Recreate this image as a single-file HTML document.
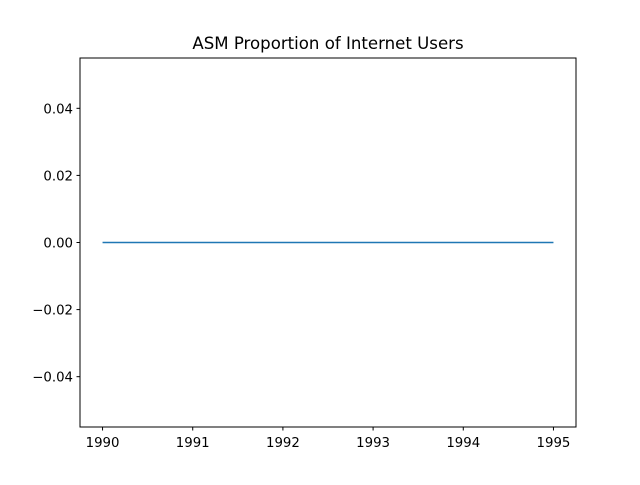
<!DOCTYPE html>
<html><head><meta charset="utf-8"><style>
body{margin:0;background:#fff;}
svg text{font-family:"DejaVu Sans","Liberation Sans",sans-serif;}
</style></head><body>
<svg id="chart" width="640" height="480">
<rect width="640" height="480" fill="#fff"/>
<text x="328" y="49" font-size="16.6" text-anchor="middle">ASM Proportion of Internet Users</text>
<g id="ticks"></g>
<path id="line" fill="none" stroke="#1f77b4" stroke-width="1.5"/>
<rect x="80" y="58" width="496" height="369" fill="none" stroke="#000" stroke-width="1"/>
</svg>
<script>
const years=[1990,1991,1992,1993,1994,1995];
const values=[0,0,0,0,0,0];
const yTicks=[-0.04,-0.02,0,0.02,0.04];
const yTickLabels=["\u22120.04","\u22120.02","0.00","0.02","0.04"];
const xL=80,xR=576,yT=58,yB=427;
const x0=1989.75,x1=1995.25,y0=-0.055,y1=0.055;
const sx=v=>xL+(v-x0)/(x1-x0)*(xR-xL);
const sy=v=>yB-(v-y0)/(y1-y0)*(yB-yT);
const NS="http://www.w3.org/2000/svg";
const g=document.getElementById('ticks');
function mk(tag,attrs){const e=document.createElementNS(NS,tag);for(const k in attrs)e.setAttribute(k,attrs[k]);g.appendChild(e);return e;}
years.forEach(y=>{
 const X=sx(y);
 const t=mk('line',{x1:X,x2:X,y1:yB,y2:yB+3.5,stroke:'#000'});
 
 
 const l=mk('text',{x:X,y:yB+20,'font-size':'13.3','text-anchor':'middle'});
 l.textContent=y;
 
 
});
yTicks.forEach((v,i)=>{
 const Y=sy(v);
 const t=mk('line',{x1:xL-3.5,x2:xL,y1:Y,y2:Y,stroke:'#000'});
 
 
 const l=mk('text',{x:xL-7,y:Y+5,'font-size':'13.3','text-anchor':'end'});
 l.textContent=yTickLabels[i];
 
 
});
document.getElementById('line').setAttribute('d',years.map((y,i)=>(i?'L':'M')+sx(y)+','+sy(values[i])).join(''));
</script>
</body></html>
